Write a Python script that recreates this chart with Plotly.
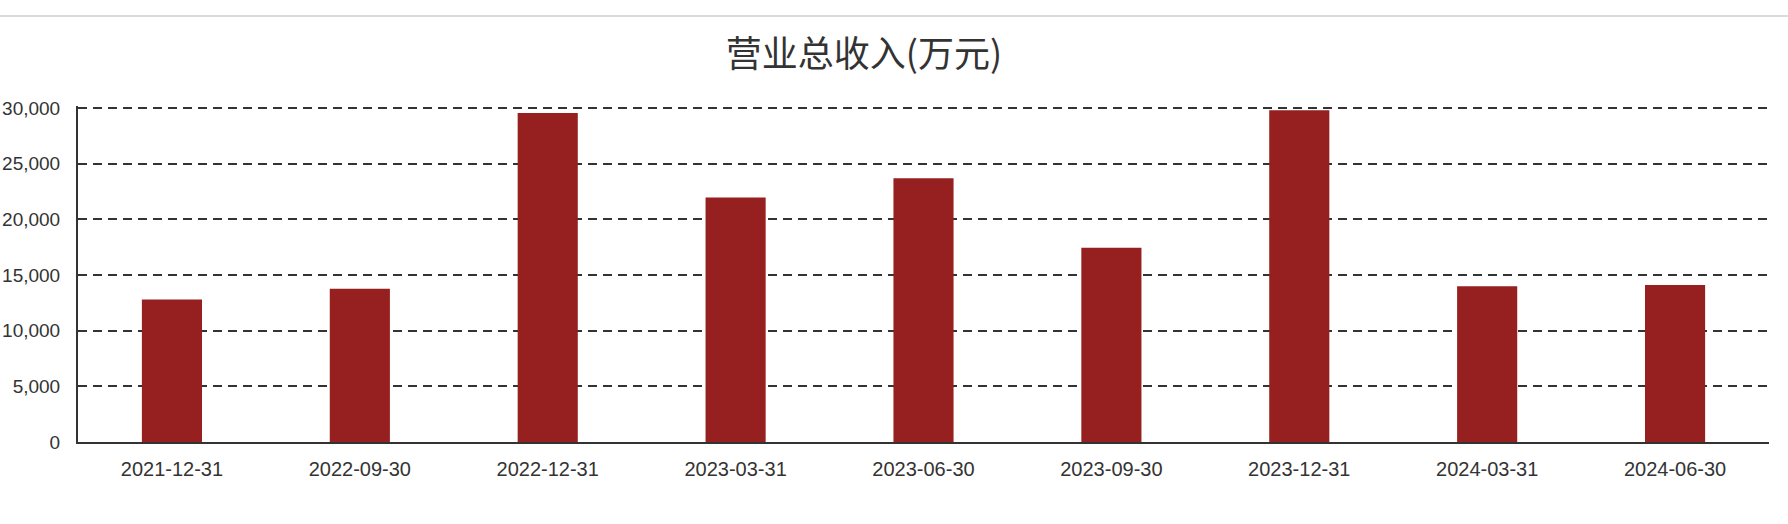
import plotly.graph_objects as go

# 营业总收入 (万元)
report_dates = [
    "2021-12-31", "2022-09-30", "2022-12-31", "2023-03-31", "2023-06-30",
    "2023-09-30", "2023-12-31", "2024-03-31", "2024-06-30",
]
revenue = [12790, 13770, 29550, 21950, 23690, 17450, 29800, 13980, 14100]
y_ticks = [0, 5000, 10000, 15000, 20000, 25000, 30000]

W, H = 1788, 524
# plot top sits 2px above the 30,000 line so plotly keeps that grid line
L, R, T, B = 78, 19, 106, 82
plot_h = H - T - B
plot_w = W - L - R
y_top = y_ticks[-1] * plot_h / (plot_h - 2)

bar_color = "#96201f"
ink = "#333333"
x_font = dict(family="Liberation Sans, Arial, sans-serif", size=20, color=ink)
y_font = dict(family="Liberation Sans, Arial, sans-serif", size=19, color=ink)

fig = go.Figure()
fig.add_trace(go.Bar(x=report_dates, y=revenue, marker=dict(color=bar_color, line_width=0)))

fig.update_layout(
    width=W,
    height=H,
    margin=dict(l=L, r=R, t=T, b=B),
    paper_bgcolor="white",
    plot_bgcolor="white",
    showlegend=False,
    bargap=0.68,
    title=dict(
        text="营业总收入(万元)",
        font=dict(family="Noto Sans CJK SC", size=36, color=ink),
        xref="container", yref="container",
        x=864 / W, y=1 - 54 / H,
        xanchor="center", yanchor="middle",
    ),
    # thin grey rule along the top of the page
    shapes=[dict(
        type="line", xref="paper", yref="paper",
        x0=-L / plot_w, x1=(W - L) / plot_w,
        y0=(H - B - 16) / plot_h, y1=(H - B - 16) / plot_h,
        line=dict(color="#dadada", width=2),
    )],
)

fig.update_xaxes(
    type="category",
    automargin=False,
    showline=True, linecolor=ink, linewidth=2,
    showgrid=False, ticks="",
    tickfont=x_font,
    ticklabelstandoff=8,
)
fig.update_yaxes(
    range=[0, y_top],
    automargin=False,
    tickvals=y_ticks,
    tickformat=",d",
    showline=True, linecolor=ink, linewidth=2,
    showgrid=True, gridcolor=ink, gridwidth=2, griddash="9px,6px",
    zeroline=False, ticks="",
    tickfont=y_font,
    ticklabelstandoff=12,
)

# drop the browser's default 8px body margin so the figure sits flush
fig.write_html(
    "out.html",
    config={"displayModeBar": False},
    post_script="document.body.style.margin='0';",
)
